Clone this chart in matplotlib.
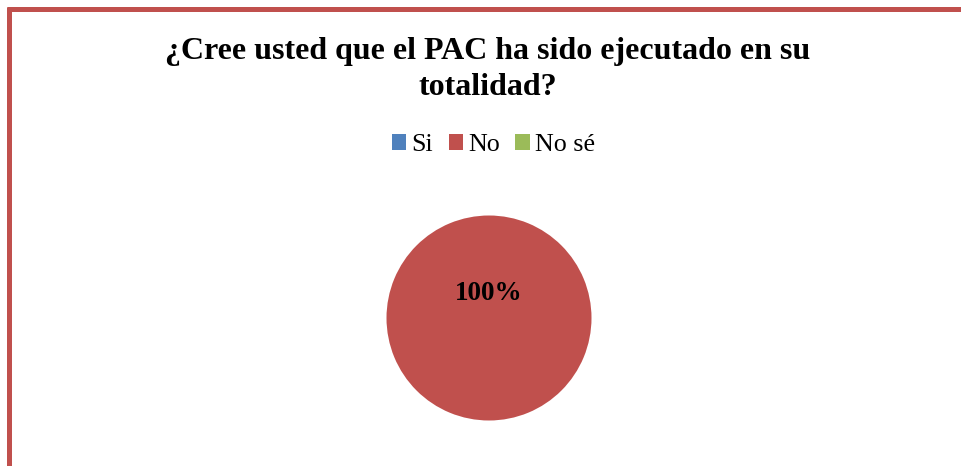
import matplotlib
matplotlib.use("Agg")
import matplotlib.pyplot as plt
from matplotlib.lines import Line2D

# Survey answers
categories = ["Si", "No", "No sé"]
values = [0, 100, 0]
colors = ["#4F81BD", "#C0504D", "#9BBB59"]
title_lines = ["¿Cree usted que el PAC ha sido ejecutado en su", "totalidad?"]

W, H = 961, 466
fig = plt.figure(figsize=(W / 100, H / 100), dpi=100)
fig.patch.set_facecolor("white")
serif = ["Liberation Serif", "DejaVu Serif"]

# Chart frame: top and left edges
border = "#C0504D"
fig.add_artist(Line2D([7 / W, 1.0], [1 - 9.3 / H, 1 - 9.3 / H], color=border,
                      lw=3.6, solid_capstyle="butt", transform=fig.transFigure))
fig.add_artist(Line2D([9.3 / W, 9.3 / W], [1 - 7 / H, 0.0], color=border,
                      lw=3.6, solid_capstyle="butt", transform=fig.transFigure))

# Title
fig.text(488 / W, 1 - 58.5 / H, title_lines[0], ha="center", va="baseline",
         fontsize=23, fontweight="bold", family=serif)
fig.text(488 / W, 1 - 95 / H, title_lines[1], ha="center", va="baseline",
         fontsize=23, fontweight="bold", family=serif)

# Pie
cx, cy, r = 489, 318, 102.5
ax = fig.add_axes([(cx - r) / W, (H - cy - r) / H, 2 * r / W, 2 * r / H])


def pct_label(p):
    return f"{p:.0f}%" if p > 0 else ""


wedges, _, autotexts = ax.pie(values, colors=colors, startangle=-90,
                              counterclock=True, autopct=pct_label,
                              pctdistance=0.24, radius=1,
                              wedgeprops=dict(linewidth=0))
for t in autotexts:
    t.set_fontsize(19.5)
    t.set_fontweight("bold")
    t.set_family(serif)
ax.set_xlim(-1, 1)
ax.set_ylim(-1, 1)
ax.set_aspect("equal")
ax.axis("off")

# Legend
fig.legend(wedges, categories, loc="center", bbox_to_anchor=(493.5 / W, 1 - 145 / H),
           ncol=3, frameon=False, prop={"family": serif, "size": 18.7},
           handlelength=0.55, handleheight=0.55, handletextpad=0.2,
           columnspacing=0.6, borderpad=0)

fig.savefig("out.png", dpi=100)
